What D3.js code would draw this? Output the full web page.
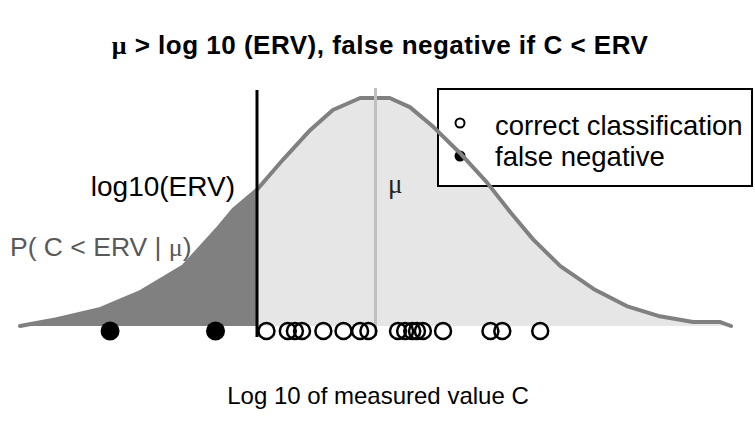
<!DOCTYPE html>
<html>
<head>
<meta charset="utf-8">
<script src="https://cdn.jsdelivr.net/npm/d3@7"></script>
<style>
  body { margin: 0; background: #fff; }
  svg text { font-family: "Liberation Sans", Arial, sans-serif; }
  .sym { font-family: "Liberation Serif", "Times New Roman", serif; }
</style>
</head>
<body>
<div id="chart"></div>
<script>
// density curve (log10 units, relative density)
const curveX = [-1.0, -0.69, -0.32, 0.01, 0.38, 0.66, 0.80, 1.0, 1.22, 1.45, 1.64, 1.87,
                2.12, 2.29, 2.49, 2.71, 2.94, 3.14, 3.33, 3.56, 3.84, 4.12, 4.40, 4.68, 4.91, 5.0];
const curveY = [0.0, 0.012, 0.030, 0.059, 0.105, 0.169, 0.204, 0.239, 0.292, 0.344, 0.379, 0.40,
                0.40, 0.384, 0.349, 0.304, 0.252, 0.199, 0.152, 0.105, 0.065, 0.035, 0.017, 0.007, 0.007, 0.0];

const erv = 1.0;
const mu = 2.0;

// measured values
const correctVals = [1.08, 1.26, 1.32, 1.38, 1.56, 1.73, 1.87, 1.94, 2.19, 2.25, 2.31, 2.35, 2.40, 2.57, 2.97, 3.07, 3.39];
const falseNegVals = [-0.24, 0.65];

const legendLabels = ["correct classification", "false negative"];

const width = 755, height = 435;

const svg = d3.select("#chart").append("svg")
  .attr("width", width)
  .attr("height", height)

const x = d3.scaleLinear().domain([-1, 5]).range([20, 731]);
const y = d3.scaleLinear().domain([0, 0.4]).range([326, 98]);

const curve = curveX.map((v, i) => ({x: v, y: curveY[i]}));

// split at ERV
function densityAt(v) {
  const i = d3.bisector(d => d.x).left(curve, v);
  if (i <= 0) return curve[0].y;
  const a = curve[i - 1], b = curve[i];
  return a.y + (b.y - a.y) * (v - a.x) / (b.x - a.x);
}
const ervPt = {x: erv, y: densityAt(erv)};
const leftPart = curve.filter(d => d.x < erv).concat([ervPt]);
const rightPart = [ervPt].concat(curve.filter(d => d.x > erv));

const area = d3.area().x(d => x(d.x)).y0(y(0)).y1(d => y(d.y));
const line = d3.line().x(d => x(d.x)).y(d => y(d.y));

svg.append("path").attr("d", area(rightPart)).attr("fill", "#e6e6e6");
svg.append("path").attr("d", area(leftPart)).attr("fill", "#808080");

// legend box (under the curve line)
const lg = svg.append("g").attr("transform", "translate(438,89)");
lg.append("rect")
  .attr("width", 314).attr("height", 97)
  .attr("fill", "#fff").attr("stroke", "#000").attr("stroke-width", 2);

svg.append("path").attr("d", line(curve))
  .attr("fill", "none").attr("stroke", "#808080")
  .attr("stroke-width", 4).attr("stroke-linejoin", "round").attr("stroke-linecap", "round");

// vertical markers
svg.append("line")
  .attr("x1", x(mu)).attr("x2", x(mu)).attr("y1", 88).attr("y2", 336)
  .attr("stroke", "#c0c0c0").attr("stroke-width", 3);
svg.append("line")
  .attr("x1", x(erv)).attr("x2", x(erv)).attr("y1", 90).attr("y2", 337)
  .attr("stroke", "#000").attr("stroke-width", 3);

// measured points
const ptY = y(0) + 5;
svg.selectAll(".ok").data(correctVals).join("circle")
  .attr("class", "ok")
  .attr("cx", d => x(d)).attr("cy", ptY).attr("r", 8)
  .attr("fill", "none").attr("stroke", "#000").attr("stroke-width", 2.5);
svg.selectAll(".fn").data(falseNegVals).join("circle")
  .attr("class", "fn")
  .attr("cx", d => x(d)).attr("cy", ptY).attr("r", 9.5)
  .attr("fill", "#000");

// legend content
lg.append("circle").attr("cx", 22).attr("cy", 34).attr("r", 4.5)
  .attr("fill", "#fff").attr("stroke", "#000").attr("stroke-width", 2);
lg.append("circle").attr("cx", 22).attr("cy", 67).attr("r", 5.5).attr("fill", "#000");
lg.selectAll(".lt").data(legendLabels).join("text")
  .attr("class", "lt")
  .attr("x", 57).attr("y", (d, i) => 46 + i * 31)
  .attr("font-size", 27.5).attr("fill", "#000")
  .text(d => d);

// labels
svg.append("text").attr("x", 235).attr("y", 196).attr("text-anchor", "end")
  .attr("font-size", 28).text("log10(ERV)");

const pl = svg.append("text").attr("x", 10).attr("y", 256)
  .attr("font-size", 26.5).attr("fill", "#595959");
pl.append("tspan").text("P( C < ERV | ");
pl.append("tspan").attr("class", "sym").attr("font-size", 26).text("μ");
pl.append("tspan").text(")");

svg.append("text").attr("class", "sym").attr("x", 388).attr("y", 193)
  .attr("font-size", 27).attr("fill", "#222").text("μ");

// title
const t = svg.append("text").attr("x", 380).attr("y", 54).attr("text-anchor", "middle")
  .attr("font-size", 26).attr("font-weight", "bold").attr("letter-spacing", 0.5);
t.append("tspan").attr("class", "sym").text("μ");
t.append("tspan").text(" > log 10 (ERV), false negative if C < ERV");

// axis title
svg.append("text").attr("x", 378).attr("y", 404).attr("text-anchor", "middle")
  .attr("font-size", 24).text("Log 10 of measured value C");
</script>
</body>
</html>
